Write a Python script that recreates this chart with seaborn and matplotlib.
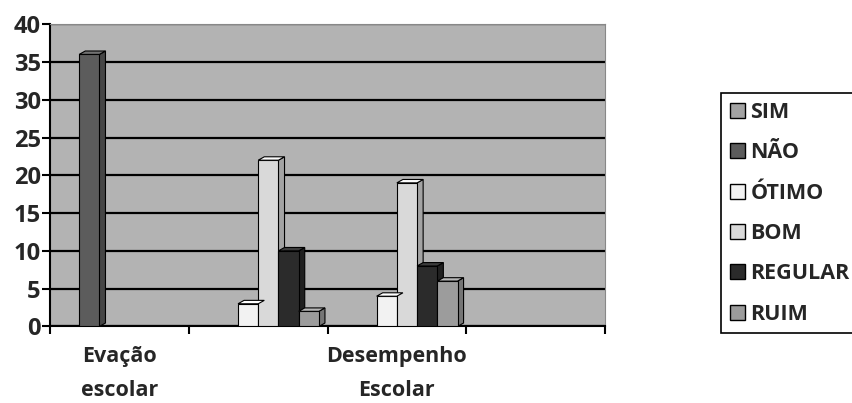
import pandas as pd
import numpy as np
import seaborn as sns
import matplotlib.pyplot as plt
import matplotlib.patches as patches
from matplotlib.colors import to_rgb

# Data
categorias = ["Evação\nescolar", "", "Desempenho\nEscolar", " "]
series = ["SIM", "NÃO", "ÓTIMO", "BOM", "REGULAR", "RUIM"]
sim = [0, 0, 0, 0]
nao = [36, 0, 0, 0]
otimo = [0, 3, 4, 0]
bom = [0, 22, 19, 0]
regular = [0, 10, 8, 0]
ruim = [0, 2, 6, 0]
cores = ["#a3a3a3", "#5c5c5c", "#f2f2f2", "#d9d9d9", "#2b2b2b", "#9c9c9c"]

valores = [sim, nao, otimo, bom, regular, ruim]
rows = []
for s, vals in zip(series, valores):
    for c, v in zip(categorias, vals):
        rows.append({"categoria": c, "serie": s, "valor": v})
df = pd.DataFrame(rows)

sns.set_style("white")
plt.rcParams['font.family'] = ['Open Sans', 'DejaVu Sans']

fig = plt.figure(figsize=(8.53, 4.03), dpi=100)
ax = fig.add_axes([0.059, 0.19, 0.65, 0.75])
ax.set_facecolor("#b3b3b3")

sns.barplot(data=df, x="categoria", y="valor", hue="serie", order=categorias,
            hue_order=series, palette=cores, edgecolor="black", linewidth=0.8,
            width=0.875, ax=ax, zorder=3)

# fake 3D depth on every visible bar
for p in list(ax.patches):
    h = p.get_height()
    if not np.isfinite(h) or h <= 0:
        p.set_visible(False)
        continue
    x0, y0 = p.get_x(), p.get_y()
    w = p.get_width()
    x1, y1 = x0 + w, y0 + h
    dx, dy = w * 0.3, 0.45
    base = np.array(to_rgb(p.get_facecolor()))
    side = patches.Polygon([(x1, y0), (x1 + dx, y0 + dy), (x1 + dx, y1 + dy), (x1, y1)],
                           closed=True, facecolor=base * 0.75, edgecolor="black",
                           linewidth=0.8, zorder=2.9)
    top = patches.Polygon([(x0, y1), (x0 + dx, y1 + dy), (x1 + dx, y1 + dy), (x1, y1)],
                          closed=True, facecolor=np.minimum(base * 1.1 + 0.05, 1), edgecolor="black",
                          linewidth=0.8, zorder=3.1)
    ax.add_patch(side)
    ax.add_patch(top)

ax.set_ylim(0, 40)
ax.set_xlim(-0.5, 3.5)
ax.set_yticks(range(0, 41, 5))
ax.yaxis.grid(True, color="black", linewidth=1.6, zorder=1)
ax.set_axisbelow(True)
ax.set_xlabel("")
ax.set_ylabel("")

for sp in ["top", "right"]:
    ax.spines[sp].set_color("#888888")
    ax.spines[sp].set_linewidth(0.8)
for sp in ["left", "bottom"]:
    ax.spines[sp].set_color("black")
    ax.spines[sp].set_linewidth(1.5)

ax.set_xticks(np.arange(-0.5, 3.6, 1), minor=True)
ax.tick_params(axis="x", which="major", length=0, pad=14, bottom=True)
ax.tick_params(axis="x", which="minor", length=6, width=1.5, color="black",
               direction="out", bottom=True)
ax.tick_params(axis="y", length=6, width=1.5, color="black", direction="out",
               pad=1, left=True)
for lbl in ax.get_yticklabels():
    lbl.set_fontsize(17)
    lbl.set_fontweight("bold")
for lbl in ax.get_xticklabels():
    lbl.set_fontsize(15.5)
    lbl.set_fontweight("bold")
    lbl.set_linespacing(1.8)

handles = [patches.Patch(facecolor=c, edgecolor="black", linewidth=1) for c in cores]
leg = ax.legend(handles, series, loc="upper left", bbox_to_anchor=(0.833, 0.795),
                bbox_transform=fig.transFigure, frameon=True, fancybox=False,
                edgecolor="black", framealpha=1, handlelength=0.7, handleheight=0.7,
                handletextpad=0.25, labelspacing=0.9, borderpad=0.4,
                prop={"size": 15.5, "weight": "bold"})
leg.get_frame().set_linewidth(1.2)

plt.savefig("out.png", dpi=100)
